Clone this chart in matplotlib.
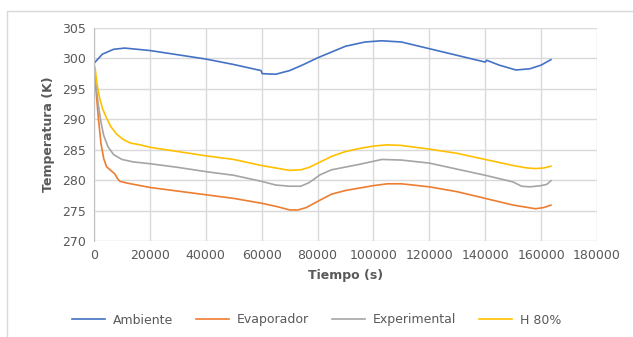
import matplotlib.pyplot as plt
from matplotlib.patches import Rectangle

# tiempo (s)
t_amb = [0, 3000, 7000, 11000, 20000, 30000, 40000, 50000, 59800, 60200, 65000, 70000, 75000, 80000,
         90000, 97000, 103000, 110000, 120000, 130000, 140000, 140500, 145000, 151000, 156000, 160000, 163500]
ambiente = [299.2, 300.7, 301.5, 301.7, 301.3, 300.6, 299.9, 299.0, 298.0, 297.5, 297.4, 298.0, 299.0, 300.1,
            302.0, 302.7, 302.9, 302.7, 301.6, 300.5, 299.4, 299.7, 298.9, 298.1, 298.3, 298.9, 299.8]

t_evap = [0, 500, 1500, 2500, 3500, 4500, 6000, 7500, 8500, 9300, 12000, 20000, 30000, 40000, 50000,
          60000, 66000, 70000, 73000, 76000, 80000, 85000, 90000, 100000, 105000, 110000, 120000, 130000,
          140000, 150000, 158000, 161000, 163500]
evaporador = [299.0, 296.0, 290.5, 286.0, 283.5, 282.2, 281.6, 281.0, 280.2, 279.8, 279.5, 278.8, 278.2, 277.6, 277.0,
              276.2, 275.6, 275.1, 275.1, 275.5, 276.5, 277.7, 278.3, 279.1, 279.4, 279.4, 278.9, 278.1,
              277.0, 275.9, 275.3, 275.5, 275.9]

t_exp = [0, 500, 1500, 2500, 3500, 5000, 7000, 10000, 14000, 20000, 30000, 40000, 50000, 60000, 65000,
         70000, 74000, 77000, 81000, 85000, 95000, 103000, 110000, 120000, 130000, 140000, 150000, 153000,
         156000, 160000, 162000, 163500]
experimental = [299.0, 296.5, 292.5, 289.5, 287.3, 285.5, 284.2, 283.4, 283.0, 282.7, 282.1, 281.4, 280.8, 279.8, 279.2,
                279.0, 279.0, 279.6, 280.9, 281.7, 282.6, 283.4, 283.3, 282.8, 281.8, 280.8, 279.7, 279.0,
                278.9, 279.1, 279.3, 279.9]

t_h80 = [0, 400, 1000, 2000, 3000, 4500, 6000, 8000, 10400, 13000, 16500, 20000, 30000, 40000, 50000,
         60000, 65000, 70000, 74000, 77000, 81000, 85000, 90000, 95000, 100000, 105000, 110000, 120000,
         130000, 140000, 150000, 155000, 158000, 161000, 163500]
h80 = [299.0, 298.4, 296.0, 293.5, 291.8, 290.2, 288.8, 287.6, 286.7, 286.1, 285.8, 285.4, 284.7, 284.0, 283.4,
       282.4, 282.0, 281.6, 281.7, 282.1, 283.0, 283.9, 284.7, 285.2, 285.6, 285.8, 285.7, 285.1,
       284.4, 283.4, 282.4, 282.0, 281.9, 282.0, 282.3]

fig = plt.figure(figsize=(6.33, 3.37), dpi=100)
fig.patches.append(Rectangle((7 / 633, -0.1), 1.2, 1 - 11 / 337 + 0.1, transform=fig.transFigure,
                             fill=False, edgecolor='#d9d9d9', linewidth=1))
ax = fig.add_axes([94 / 633, 1 - 241 / 337, 503 / 633, 213 / 337])

ax.plot(t_amb, ambiente, color='#4472c4', lw=1.2, label='Ambiente')
ax.plot(t_evap, evaporador, color='#ed7d31', lw=1.2, label='Evaporador')
ax.plot(t_exp, experimental, color='#a5a5a5', lw=1.2, label='Experimental')
ax.plot(t_h80, h80, color='#ffc000', lw=1.2, label='H 80%')

ax.set_xlim(0, 180000)
ax.set_ylim(270, 305)
ax.set_xticks(range(0, 180001, 20000))
ax.set_yticks(range(270, 306, 5))
ax.grid(True, color='#d9d9d9', lw=1)
ax.set_axisbelow(True)
for s in ['top', 'right', 'bottom']:
    ax.spines[s].set_visible(False)
ax.spines['left'].set_color('#bfbfbf')
ax.tick_params(length=0, labelsize=9, labelcolor='#595959', pad=6)
ax.set_xlabel('Tiempo (s)', fontsize=9, fontweight='bold', color='#595959', labelpad=5)
ax.set_ylabel('Temperatura (K)', fontsize=9, fontweight='bold', color='#595959', labelpad=5)

leg = fig.legend(loc='center', bbox_to_anchor=(0.5, 1 - 320 / 337), ncol=4, frameon=False,
                 fontsize=9, handlelength=2.7, columnspacing=1.8, handletextpad=0.6)
for txt in leg.get_texts():
    txt.set_color('#595959')

fig.savefig('out.png', dpi=100)
